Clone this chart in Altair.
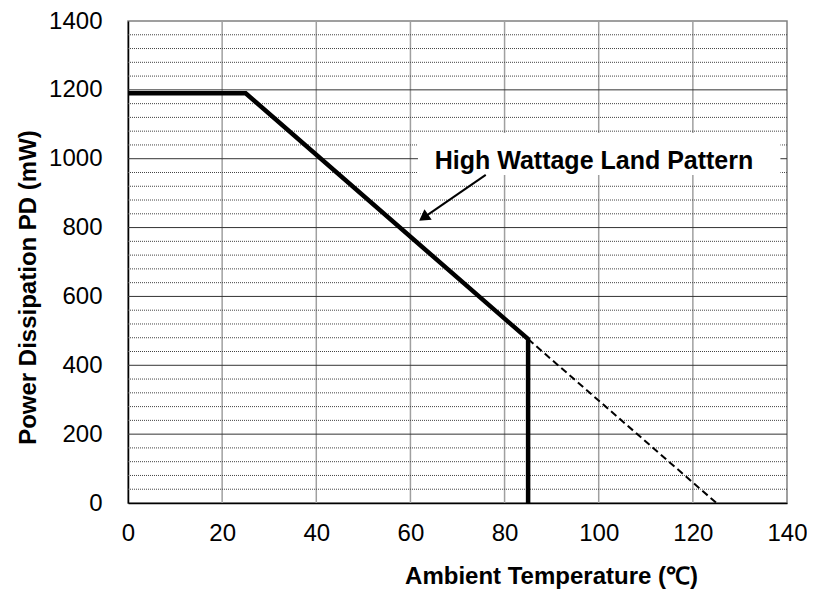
import altair as alt
import pandas as pd

# Derating curve (solid) and extrapolation (dashed)
curve_t = [0, 25, 85, 85]
curve_p = [1190, 1190, 476, 0]
dash_t = [85, 125]
dash_p = [476, 0]

x_ticks = [0, 20, 40, 60, 80, 100, 120, 140]
y_major = [0, 200, 400, 600, 800, 1000, 1200, 1400]
y_minor = [40, 80, 120, 160, 240, 280, 320, 360, 440, 480, 520, 560,
           640, 680, 720, 760, 840, 880, 920, 960, 1040, 1080, 1120, 1160,
           1240, 1280, 1320, 1360]

label_text = "High Wattage Land Pattern"
label_pos = (99.0, 970)
label_box = (61.6, 138.6, 953, 1075)
arrow_from = (76.0, 953)
arrow_to = (62.8, 829)

FONT = "Liberation Sans"
xs = alt.Scale(domain=[0, 140], nice=False, zero=False)
ys = alt.Scale(domain=[0, 1400], nice=False, zero=False)

curve = pd.DataFrame({"t": curve_t, "p": curve_p, "o": range(len(curve_t))})
dash = pd.DataFrame({"t": dash_t, "p": dash_p, "o": range(len(dash_t))})

xaxis = alt.Axis(values=x_ticks, grid=False, ticks=False, domainColor="black",
                 domainWidth=1.5, labelFont=FONT, labelFontSize=24, labelColor="black",
                 labelPadding=18, format="d", labelFlush=False,
                 title="Ambient Temperature (℃)", titleFont=FONT,
                 titleFontSize=24, titleFontWeight="bold", titleColor="black",
                 titleY=80, titleX=423, titleBaseline="alphabetic")
yaxis = alt.Axis(values=y_major, grid=False, ticks=False, domainColor="black",
                 domainWidth=1.5, labelFont=FONT, labelFontSize=24, labelColor="black",
                 labelPadding=26, format="d", labelFlush=False,
                 title="Power Dissipation PD (mW)", titleFont=FONT,
                 titleFontSize=24, titleFontWeight="bold", titleColor="black",
                 titleX=-93, titleY=266, titleBaseline="alphabetic")

vgrid = alt.Chart(pd.DataFrame({"t": x_ticks[1:-1]})).mark_rule(
    color="#a0a0a0", strokeWidth=1.5).encode(
    x=alt.X("t:Q", scale=xs, axis=xaxis))
hminor = alt.Chart(pd.DataFrame({"p": y_minor})).mark_rule(
    color="#444444", strokeWidth=1, strokeDash=[1, 1]).encode(
    y=alt.Y("p:Q", scale=ys, axis=yaxis))
hmajor = alt.Chart(pd.DataFrame({"p": y_major[1:-1]})).mark_rule(
    color="#333333", strokeWidth=1).encode(
    y=alt.Y("p:Q", scale=ys))

box = alt.Chart(pd.DataFrame({"x1": [label_box[0]], "x2": [label_box[1]],
                              "y1": [label_box[2]], "y2": [label_box[3]]})).mark_rect(
    fill="white").encode(
    x=alt.X("x1:Q", scale=xs), x2="x2:Q", y=alt.Y("y1:Q", scale=ys), y2="y2:Q")

text = alt.Chart(pd.DataFrame({"x": [label_pos[0]], "y": [label_pos[1]],
                               "s": [label_text]})).mark_text(
    font=FONT, fontSize=25, fontWeight="bold", color="black",
    align="center", baseline="alphabetic").encode(
    x=alt.X("x:Q", scale=xs), y=alt.Y("y:Q", scale=ys), text="s:N")

shaft = alt.Chart(pd.DataFrame({"x": [arrow_from[0], arrow_to[0]],
                                "y": [arrow_from[1], arrow_to[1]]})).mark_line(
    color="black", strokeWidth=2).encode(
    x=alt.X("x:Q", scale=xs), y=alt.Y("y:Q", scale=ys))
head = alt.Chart(pd.DataFrame({"x": [arrow_to[0]], "y": [arrow_to[1]]})).mark_point(
    shape="triangle-up", filled=True, color="black", opacity=1, size=160,
    angle=235).encode(
    x=alt.X("x:Q", scale=xs), y=alt.Y("y:Q", scale=ys))

dline = alt.Chart(dash).mark_line(color="black", strokeWidth=2,
                                  strokeDash=[7, 4]).encode(
    x=alt.X("t:Q", scale=xs), y=alt.Y("p:Q", scale=ys), order="o:Q")
line = alt.Chart(curve).mark_line(color="black", strokeWidth=4.5,
                                  strokeJoin="miter").encode(
    x=alt.X("t:Q", scale=xs), y=alt.Y("p:Q", scale=ys), order="o:Q")

chart = alt.layer(vgrid, hminor, hmajor, box, text, shaft, head, dline, line).properties(
    width=659, height=482,
    autosize=alt.AutoSizeParams(type="none"),
    padding={"left": 120, "top": 13, "right": 20, "bottom": 86},
    background="white",
).configure_view(stroke="#808080", strokeWidth=1.5)

chart.save("out.html", embed_options={"renderer": "svg", "actions": False})
